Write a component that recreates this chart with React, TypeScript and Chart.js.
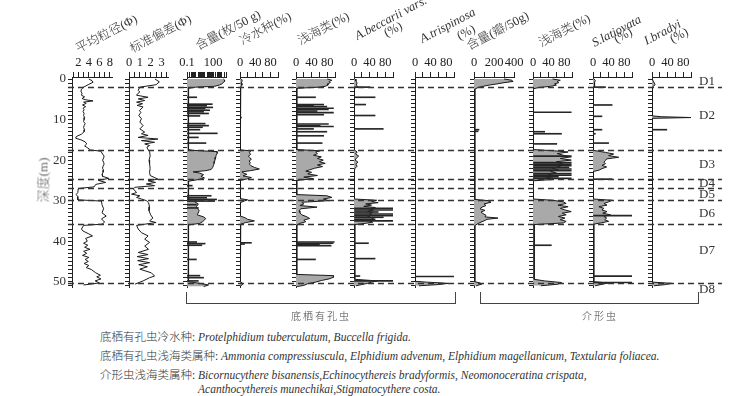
import React, { useEffect, useRef } from 'react';
import { Chart, registerables } from 'chart.js';

Chart.register(...registerables);

// ---------------- data (depth in m) ----------------
const meanGrainDepth = [0, 0.4, 0.8, 1.3, 2.0, 2.5, 3.0, 3.5, 4.0, 4.4,
  4.8, 5.1, 5.4, 5.7, 6.0, 6.4, 6.8, 7.2, 7.6, 8.0,
  8.5, 9.0, 9.5, 10.0, 10.5, 11.0, 11.5, 12.0, 12.5, 13.0,
  13.6, 14.2, 14.6, 15.0, 15.5, 16.0, 16.5, 17.0, 17.5, 17.8,
  18.5, 19.0, 19.5, 20.0, 20.5, 21.0, 21.5, 22.0, 22.5, 23.0,
  23.5, 24.0, 24.5, 25.0, 25.5, 26.0, 26.6, 27.0, 28.0, 28.5,
  29.0, 29.8, 30.1, 31.0, 32.0, 33.0, 33.8, 34.5, 35.3, 35.8,
  36.1, 37.0, 37.5, 38.2, 38.7, 39.3, 40.0, 40.5, 41.0, 41.5,
  42.0, 42.5, 43.0, 43.5, 44.0, 44.5, 45.0, 45.5, 46.0, 46.5,
  47.0, 47.8, 48.4, 48.8, 49.3, 49.8, 50.3, 50.8];
const meanGrainValue = [4.0, 4.6, 4.8, 4.0, 3.0, 2.6, 2.5, 2.7, 2.6, 3.2,
  2.7, 3.3, 4.8, 3.0, 3.5, 2.8, 3.4, 2.9, 3.1, 2.9,
  3.1, 3.0, 3.2, 3.1, 3.0, 3.3, 3.1, 3.0, 3.2, 3.1,
  2.6, 1.6, 1.5, 2.5, 3.3, 3.6, 3.2, 3.8, 4.3, 6.3,
  6.6, 6.9, 6.8, 6.6, 6.8, 6.9, 6.7, 6.6, 6.8, 6.7,
  6.5, 6.6, 7.8, 5.8, 7.2, 5.3, 5.0, 2.0, 1.9, 1.6,
  1.9, 1.9, 6.4, 6.5, 6.8, 6.5, 7.3, 6.4, 7.0, 6.5,
  3.0, 2.6, 2.9, 4.0, 4.7, 3.4, 3.7, 3.0, 3.8, 3.2,
  4.2, 3.0, 3.6, 2.8, 4.0, 3.3, 3.9, 3.1, 4.0, 3.5,
  4.5, 5.3, 6.2, 5.5, 6.3, 5.2, 6.0, 3.0];

const sortingDepth = [0, 0.7, 1.4, 2.0, 2.8, 3.2, 3.6, 4.0, 4.5, 4.9,
  5.3, 5.7, 6.1, 6.5, 6.9, 7.8, 8.2, 9.0, 9.8, 10.6,
  11.5, 12.3, 13.1, 13.5, 13.9, 14.4, 14.8, 15.2, 15.6, 16.0,
  16.4, 16.8, 17.4, 17.8, 19.0, 20.0, 21.0, 22.0, 23.0, 23.8,
  24.7, 25.1, 25.5, 25.9, 26.3, 26.7, 27.1, 28.0, 28.4, 28.8,
  29.2, 29.6, 30.0, 30.5, 31.5, 32.5, 33.5, 34.3, 35.0, 35.4,
  36.1, 37.0, 37.9, 38.7, 39.5, 40.3, 41.2, 42.0, 42.8, 43.3,
  43.8, 44.3, 44.8, 45.3, 45.8, 46.3, 46.9, 47.8, 48.6, 49.0,
  49.8, 50.6];
const sortingValue = [2.4, 2.8, 2.5, 1.0, 0.85, 1.0, 0.8, 0.7, 1.76, 0.85,
  1.45, 0.7, 1.25, 0.75, 1.3, 0.95, 1.1, 0.9, 1.15, 1.0,
  1.3, 1.0, 1.45, 1.15, 1.76, 0.85, 2.67, 1.15, 2.36, 1.45,
  1.9, 1.65, 1.76, 1.9, 1.95, 1.85, 1.9, 1.95, 1.9, 1.95,
  2.67, 1.76, 2.45, 1.6, 2.36, 0.55, 0.4, 0.7, 0.24, 1.0,
  0.7, 1.15, 1.6, 1.8, 1.9, 1.85, 2.0, 2.2, 1.9, 2.5,
  0.7, 0.85, 1.15, 1.76, 1.45, 1.9, 1.45, 1.8, 0.85, 1.76,
  0.75, 1.8, 0.8, 1.9, 0.9, 1.7, 1.0, 2.06, 2.36, 1.9,
  1.3, 0.55];

const foramAbundDepth = [0, 0.3, 0.6, 0.9, 1.2, 1.5, 1.8, 2.0, 2.3, 17.4,
  17.6, 17.9, 18.3, 18.8, 19.3, 19.8, 20.3, 20.8, 21.3, 21.8,
  22.3, 22.6, 22.9, 23.2, 23.6, 24.0, 24.4, 24.8, 25.2, 29.6,
  29.9, 30.3, 30.8, 31.5, 32.5, 33.5, 34.0, 34.4, 34.8, 35.2,
  35.6, 36.0, 50.0, 50.4, 50.8, 51.2];
const foramAbundValue = [1500, 2200, 2000, 1400, 1000, 500, 150, 1, 0.15, 0.15,
  0.5, 280, 300, 220, 200, 170, 150, 130, 110, 90,
  60, 15, 0.5, 3, 8, 4, 10, 2, 0.15, 0.15,
  1.5, 0.8, 2, 1.2, 2.5, 1.5, 8, 14, 10, 6,
  3, 0.15, 0.15, 3, 30, 8];
const foramAbundSpikeDepth = [4.5, 6.2, 6.6, 7.0, 7.3, 7.7, 8.1, 8.5, 9.1, 11.0,
  11.5, 11.9, 12.5, 13.4, 14.4, 15.8, 26.3, 28.8, 29.3, 29.7,
  30.1, 31.0, 31.8, 40.2, 40.6, 41.0, 44.5, 48.5, 49.0, 49.8];
const foramAbundSpikeValue = [1.3, 80, 18, 90, 12, 40, 8, 30, 3, 12,
  30, 6, 3, 300, 2, 15, 0.4, 60, 18, 250,
  150, 1.2, 2, 1.3, 12, 5, 1.2, 3, 8, 2];

const coldDepth = [0, 0.5, 1.0, 1.5, 2.0, 2.5, 17.5, 17.7, 18.2, 18.6,
  19.0, 19.4, 19.8, 20.2, 20.6, 21.0, 21.4, 21.8, 22.2, 22.6,
  22.9, 23.2, 23.5, 23.9, 24.3, 24.6, 25.0, 29.5, 29.8, 30.2,
  30.5, 33.8, 34.2, 34.6, 35.0, 35.4, 35.8, 50.0, 50.5, 51.0];
const coldValue = [4, 6, 3, 5, 2, 1, 1, 28, 25, 28,
  22, 26, 30, 24, 27, 25, 29, 38, 51, 28,
  5, 10, 18, 8, 30, 20, 1, 1, 20, 8,
  1, 1, 13, 20, 38, 15, 2, 1, 8, 3];
const coldSpikeDepth = [9.5, 40.4, 40.7];
const coldSpikeValue = [4, 30, 12];

const foramShallowDepth = [0, 0.3, 0.6, 0.9, 1.2, 1.5, 1.8, 2.0, 2.3, 17.4,
  17.7, 18.0, 18.4, 18.8, 19.2, 19.6, 20.0, 20.4, 20.8, 21.2,
  21.6, 22.0, 22.4, 22.7, 23.0, 23.4, 23.8, 24.2, 24.6, 25.0,
  28.5, 28.8, 29.2, 29.6, 30.0, 30.4, 30.8, 31.2, 31.6, 32.0,
  32.5, 33.0, 33.5, 34.0, 34.4, 34.8, 35.2, 35.6, 36.0, 48.2,
  48.5, 48.9, 49.3, 49.7, 50.1, 50.5, 50.9, 51.2];
const foramShallowValue = [80, 92, 85, 88, 80, 82, 75, 60, 2, 2,
  62, 50, 55, 45, 65, 55, 70, 60, 75, 55,
  68, 48, 35, 25, 40, 30, 55, 20, 45, 2,
  2, 79, 92, 70, 85, 15, 20, 10, 54, 12,
  8, 10, 15, 28, 35, 20, 25, 10, 2, 2,
  96, 96, 85, 65, 50, 30, 20, 3];
const foramShallowSpikeDepth = [4.5, 6.3, 6.5, 6.8, 7.2, 7.5, 7.9, 8.3, 8.8, 11.1,
  11.5, 11.7, 12.3, 13.0, 14.0, 15.8, 40.2, 40.5, 40.8, 41.1, 44.5];
const foramShallowSpikeValue = [50, 71, 45, 79, 96, 83, 54, 96, 71, 83,
  62, 96, 45, 79, 71, 67, 98, 95, 60, 90, 50];

const beccariiDepth = [0, 0.5, 1.0, 1.5, 1.9, 2.3, 17.5, 18.0, 18.5, 19.0,
  19.5, 20.0, 20.5, 21.0, 21.5, 22.0, 22.5, 29.6, 29.9, 30.2,
  30.5, 30.8, 31.1, 31.4, 31.7, 32.0, 32.3, 32.6, 32.9, 33.2,
  33.5, 33.8, 34.1, 34.4, 34.7, 35.0, 35.3, 35.6, 35.9, 49.4,
  49.8, 50.1, 50.4, 50.7, 51.0];
const beccariiValue = [3, 5, 8, 6, 10, 1, 1, 8, 4, 12,
  6, 3, 10, 5, 8, 3, 1, 1, 58, 45,
  62, 30, 45, 25, 55, 40, 50, 35, 48, 40,
  45, 35, 42, 50, 45, 40, 48, 30, 2, 2,
  60, 45, 35, 20, 5];
const beccariiSpikeDepth = [2.0, 4.5, 6.3, 9.0, 12.3, 31.9, 32.3, 32.8, 33.3, 33.7,
  34.1, 34.6, 35.0, 40.5, 44.3, 48.6, 49.8];
const beccariiSpikeValue = [41, 54, 30, 54, 75, 100, 100, 62, 100, 100,
  75, 54, 100, 37, 54, 15, 100];

const trispinosaDepth = [0, 49.9, 50.1, 50.4, 50.7, 51.0];
const trispinosaValue = [0.5, 0.5, 30, 85, 60, 10];
const trispinosaSpikeDepth = [48.7];
const trispinosaSpikeValue = [100];

const ostraAbundDepth = [0, 0.3, 0.6, 0.9, 1.2, 1.5, 1.8, 2.1, 2.5, 29.7,
  30.0, 30.4, 30.8, 31.2, 31.6, 32.0, 32.4, 32.8, 33.2, 33.6,
  34.0, 34.3, 34.6, 35.0, 35.4, 35.8, 36.2, 50.0, 50.3, 50.6,
  51.0];
const ostraAbundValue = [300, 380, 390, 300, 230, 150, 90, 40, 8, 8,
  140, 170, 100, 120, 80, 60, 110, 70, 90, 120,
  110, 240, 130, 100, 60, 30, 8, 8, 60, 77,
  20];
const ostraAbundSpikeDepth = [12.5, 12.9];
const ostraAbundSpikeValue = [50, 40];

const ostraShallowDepth = [0, 0.3, 0.6, 0.9, 1.2, 1.5, 1.8, 2.1, 2.4, 17.4,
  17.7, 18.0, 18.4, 18.8, 19.2, 19.6, 20.0, 20.4, 20.8, 21.2,
  21.6, 22.0, 22.4, 22.8, 23.2, 23.6, 24.0, 24.4, 24.8, 25.1,
  29.6, 29.9, 30.3, 30.7, 31.1, 31.5, 31.9, 32.3, 32.7, 33.1,
  33.5, 33.9, 34.3, 34.7, 35.1, 35.5, 35.9, 49.4, 49.8, 50.2,
  50.6, 51.0];
const ostraShallowValue = [50, 70, 62, 66, 55, 60, 45, 15, 1, 1,
  55, 90, 62, 78, 98, 70, 98, 60, 75, 55,
  70, 50, 65, 45, 60, 40, 55, 35, 50, 1,
  1, 50, 78, 85, 64, 90, 70, 82, 98, 75,
  85, 65, 82, 70, 85, 78, 3, 3, 30, 73,
  64, 20];
const ostraShallowSpikeDepth = [8.2, 13.0, 13.5, 16.0, 19.0, 20.6, 21.0, 21.4, 21.8, 22.2,
  22.6, 23.3, 23.7, 24.1, 24.5, 41.0];
const ostraShallowSpikeValue = [98, 30, 73, 61, 98, 98, 98, 98, 92, 98,
  98, 98, 98, 65, 98, 47];

const latiovataDepth = [0, 0.4, 0.8, 1.2, 1.6, 2.0, 2.3, 17.6, 18.1, 18.5,
  18.9, 19.3, 19.7, 20.1, 20.5, 20.9, 21.3, 21.7, 22.1, 22.5,
  22.8, 29.6, 29.9, 30.3, 30.7, 31.1, 31.5, 31.9, 32.3, 32.7,
  33.1, 33.5, 33.9, 34.3, 34.7, 35.1, 35.5, 35.8, 50.0, 50.3,
  50.6, 51.0];
const latiovataValue = [3, 6, 4, 5, 3, 4, 1, 1, 32, 53,
  40, 66, 35, 32, 28, 32, 23, 35, 23, 15,
  1, 1, 49, 40, 28, 36, 15, 28, 23, 36,
  25, 45, 28, 35, 30, 40, 20, 2, 2, 40,
  25, 5];
const latiovataSpikeDepth = [2.0, 6.4, 9.2, 12.5, 13.5, 15.8, 24.7, 33.7, 48.6, 50.2];
const latiovataSpikeValue = [32, 49, 23, 23, 6, 40, 49, 100, 100, 100];

const bradyiDepth = [0, 0.5, 1.0, 1.4, 1.8, 2.2, 9.1, 9.3, 9.5, 9.7, 50.1, 50.4, 50.7, 51.0];
const bradyiValue = [1, 3, 6, 8, 3, 1, 1, 25, 100, 1, 1, 51, 35, 5];
const bradyiSpikeDepth = [12.5];
const bradyiSpikeValue = [38];

// zone boundaries and labels
const boundaryDepths = [2.0, 17.5, 24.6, 26.9, 29.9, 35.8, 50.2];
const unitLabels = ['D1', 'D2', 'D3', 'D4', 'D5', 'D6', 'D7', 'D8'];
const unitLabelDepths = [0.7, 9.05, 21.2, 25.7, 28.6, 33.1, 42.2, 52.0];
const depthTickLabels = [0, 10, 20, 30, 40, 50];

// ---------------- layout / style ----------------
const DEPTH_MIN = -0.5;
const DEPTH_MAX = 51.3;
const PLOT_TOP = 77;
const PLOT_BOTTOM = 287;
const CANVAS_H = 300;
const Y_AXIS_W = 30;
const PAD_R = 14;
const DASH_X0 = 68;
const DASH_X1 = 722;
const UNIT_X = 699;
const SERIF = '"Liberation Serif", "Times New Roman", serif';
const MIXED = '"Liberation Serif", "Noto Sans CJK SC", serif';
const INK = '#1a1a1a';
const SPIKE = '#262626';
const FILL = '#a9a9a9';

type PanelCfg = {
  id: string;
  axisX: number;
  width: number;
  min: number;
  max: number;
  step?: number;
  log?: boolean;
  labels: number[];
  depth: number[];
  value: number[];
  spikeDepth?: number[];
  spikeValue?: number[];
  fill: boolean;
  depthAxisLabels?: boolean;
};

const PANELS: PanelCfg[] = [
  { id: 'meanGrain', axisX: 72, width: 40, min: 0.8, max: 8.4, step: 1, labels: [2, 4, 6, 8], depth: meanGrainDepth, value: meanGrainValue, fill: false, depthAxisLabels: true },
  { id: 'sorting', axisX: 129, width: 39, min: 0, max: 3.6, step: 0.5, labels: [0, 1, 2, 3], depth: sortingDepth, value: sortingValue, fill: false },
  { id: 'foramAbund', axisX: 187, width: 39, min: 0.1, max: 3000, log: true, labels: [0.1, 100], depth: foramAbundDepth, value: foramAbundValue, spikeDepth: foramAbundSpikeDepth, spikeValue: foramAbundSpikeValue, fill: true },
  { id: 'cold', axisX: 240, width: 38, min: 0, max: 100, step: 20, labels: [0, 40, 80], depth: coldDepth, value: coldValue, spikeDepth: coldSpikeDepth, spikeValue: coldSpikeValue, fill: true },
  { id: 'foramShallow', axisX: 296, width: 39, min: 0, max: 100, step: 20, labels: [0, 40, 80], depth: foramShallowDepth, value: foramShallowValue, spikeDepth: foramShallowSpikeDepth, spikeValue: foramShallowSpikeValue, fill: true },
  { id: 'beccarii', axisX: 354, width: 39, min: 0, max: 100, step: 20, labels: [0, 40, 80], depth: beccariiDepth, value: beccariiValue, spikeDepth: beccariiSpikeDepth, spikeValue: beccariiSpikeValue, fill: true },
  { id: 'trispinosa', axisX: 415, width: 39, min: 0, max: 100, step: 20, labels: [0, 40, 80], depth: trispinosaDepth, value: trispinosaValue, spikeDepth: trispinosaSpikeDepth, spikeValue: trispinosaSpikeValue, fill: true },
  { id: 'ostraAbund', axisX: 474, width: 40, min: 0, max: 400, step: 100, labels: [0, 200, 400], depth: ostraAbundDepth, value: ostraAbundValue, spikeDepth: ostraAbundSpikeDepth, spikeValue: ostraAbundSpikeValue, fill: true },
  { id: 'ostraShallow', axisX: 533, width: 39, min: 0, max: 100, step: 20, labels: [0, 40, 80], depth: ostraShallowDepth, value: ostraShallowValue, spikeDepth: ostraShallowSpikeDepth, spikeValue: ostraShallowSpikeValue, fill: true },
  { id: 'latiovata', axisX: 593, width: 39, min: 0, max: 100, step: 20, labels: [0, 40, 80], depth: latiovataDepth, value: latiovataValue, spikeDepth: latiovataSpikeDepth, spikeValue: latiovataSpikeValue, fill: true },
  { id: 'bradyi', axisX: 652, width: 39, min: 0, max: 100, step: 20, labels: [0, 40, 80], depth: bradyiDepth, value: bradyiValue, spikeDepth: bradyiSpikeDepth, spikeValue: bradyiSpikeValue, fill: true },
];

const TITLES = [
  { text: '平均粒径(Φ)', x: 79, y: 54 },
  { text: '标准偏差(Φ)', x: 133, y: 54 },
  { text: '含量(枚/50 g)', x: 199, y: 51 },
  { text: '冷水种(%)', x: 243, y: 46 },
  { text: '浅海类(%)', x: 301, y: 46 },
  { text: 'A.beccarii vars.', x: 358, y: 41, italic: true },
  { text: '(%)', x: 387, y: 38 },
  { text: 'A.trispinosa', x: 423, y: 44, italic: true },
  { text: '(%)', x: 460, y: 41 },
  { text: '含量(瓣/50g)', x: 470, y: 51 },
  { text: '浅海类(%)', x: 542, y: 48 },
  { text: 'S.latiovata', x: 595, y: 48, italic: true },
  { text: '(%)', x: 617, y: 44 },
  { text: 'I.bradyi', x: 647, y: 46, italic: true },
  { text: '(%)', x: 673, y: 44 },
];

function pickLabel(v: number, list: number[]): string {
  const hit = list.find((l) => Math.abs(l - v) < 1e-6 * Math.max(1, Math.abs(l)));
  return hit === undefined ? '' : String(hit);
}

function buildPanel(canvas: HTMLCanvasElement, p: PanelCfg): Chart {
  const base = p.log ? p.min : 0;
  const datasets: any[] = [
    {
      type: 'line',
      data: p.depth.map((d, i) => ({ x: p.value[i], y: d })),
      borderColor: INK,
      borderWidth: 1,
      backgroundColor: FILL,
      fill: p.fill ? { value: base } : false,
      pointRadius: 0,
      tension: 0,
      order: 2,
    },
  ];
  if (p.spikeDepth && p.spikeValue) {
    const sv = p.spikeValue;
    datasets.push({
      type: 'bar',
      data: p.spikeDepth.map((d, i) => ({ x: [base, sv[i]], y: d })),
      backgroundColor: SPIKE,
      borderWidth: 0,
      barThickness: 1,
      order: 1,
    });
  }
  const xScale: any = {
    type: p.log ? 'logarithmic' : 'linear',
    position: 'top',
    min: p.min,
    max: p.max,
    offset: false,
    afterFit: (s: any) => {
      s.height = PLOT_TOP;
      s.paddingLeft = 0;
      s.paddingRight = 0;
    },
    ticks: {
      autoSkip: false,
      maxRotation: 0,
      minRotation: 0,
      padding: 2,
      color: '#222',
      font: { family: SERIF, size: 12.5 },
      callback: (v: any) => pickLabel(Number(v), p.labels),
    },
    grid: { drawOnChartArea: false, drawTicks: true, tickLength: 5, color: '#222', lineWidth: 1, offset: false },
    border: { display: true, color: '#222', width: 1 },
  };
  if (p.log) {
    xScale.afterBuildTicks = (s: any) => {
      const t: any[] = [];
      for (let e = -1; e <= 3; e++) {
        for (let m = 1; m <= 9; m++) {
          const v = m * Math.pow(10, e);
          if (v <= p.max * 1.0001) t.push({ value: v });
        }
      }
      s.ticks = t;
    };
  } else {
    xScale.ticks.stepSize = p.step;
    xScale.ticks.includeBounds = false;
  }
  return new Chart(canvas, {
    type: 'line',
    data: { datasets },
    options: {
      responsive: false,
      animation: false,
      indexAxis: 'y',
      events: [],
      layout: { padding: { left: 0, right: PAD_R, top: 0, bottom: CANVAS_H - PLOT_BOTTOM } },
      plugins: { legend: { display: false }, tooltip: { enabled: false } },
      scales: {
        x: xScale,
        y: {
          type: 'linear',
          reverse: true,
          min: DEPTH_MIN,
          max: DEPTH_MAX,
          offset: false,
          afterFit: (s: any) => {
            s.width = Y_AXIS_W;
            s.paddingTop = 0;
            s.paddingBottom = 0;
          },
          ticks: {
            stepSize: 1,
            includeBounds: false,
            autoSkip: false,
            padding: 2,
            color: '#333',
            font: { family: SERIF, size: 13 },
            callback: (v: any) => (p.depthAxisLabels ? pickLabel(Number(v), depthTickLabels) : ''),
          },
          grid: { drawOnChartArea: false, drawTicks: true, tickLength: 4, color: '#222', lineWidth: 1, offset: false },
          border: { display: true, color: '#222', width: 1 },
        },
      },
    } as any,
  });
}

const boundaryPlugin = {
  id: 'zoneBoundaries',
  afterDraw(chart: any) {
    const ctx = chart.ctx as CanvasRenderingContext2D;
    const y = chart.scales.y;
    ctx.save();
    ctx.strokeStyle = '#333';
    ctx.lineWidth = 1.4;
    ctx.setLineDash([6, 4]);
    boundaryDepths.forEach((d) => {
      const py = Math.round(y.getPixelForValue(d)) + 0.5;
      ctx.beginPath();
      ctx.moveTo(DASH_X0, py);
      ctx.lineTo(DASH_X1, py);
      ctx.stroke();
    });
    ctx.setLineDash([]);
    ctx.fillStyle = '#333';
    ctx.font = `13px ${SERIF}`;
    ctx.textBaseline = 'middle';
    ctx.textAlign = 'left';
    unitLabels.forEach((t, i) => {
      ctx.fillText(t, UNIT_X, y.getPixelForValue(unitLabelDepths[i]));
    });
    ctx.restore();
  },
};

function buildFrame(canvas: HTMLCanvasElement): Chart {
  return new Chart(canvas, {
    type: 'line',
    data: { datasets: [] },
    options: {
      responsive: false,
      animation: false,
      events: [],
      layout: { padding: { left: 0, right: 0, top: PLOT_TOP, bottom: CANVAS_H - PLOT_BOTTOM } },
      plugins: { legend: { display: false }, tooltip: { enabled: false } },
      scales: {
        x: { type: 'linear', display: false, min: 0, max: 1 },
        y: { type: 'linear', display: false, reverse: true, min: DEPTH_MIN, max: DEPTH_MAX },
      },
    } as any,
    plugins: [boundaryPlugin],
  });
}

export default function App() {
  const panelRefs = useRef<(HTMLCanvasElement | null)[]>([]);
  const frameRef = useRef<HTMLCanvasElement | null>(null);

  useEffect(() => {
    const charts: Chart[] = [];
    PANELS.forEach((p, i) => {
      const c = panelRefs.current[i];
      if (c) charts.push(buildPanel(c, p));
    });
    if (frameRef.current) charts.push(buildFrame(frameRef.current));
    return () => charts.forEach((ch) => ch.destroy());
  }, []);

  const bracket = (left: number, width: number) => ({
    position: 'absolute' as const,
    left,
    top: 292,
    width,
    height: 12,
    borderLeft: '1px solid #444',
    borderRight: '1px solid #444',
    borderBottom: '1px solid #444',
    boxSizing: 'border-box' as const,
  });

  const captionStyle = (left: number, top: number) => ({
    position: 'absolute' as const,
    left,
    top,
    fontSize: 11.5,
    lineHeight: '14px',
    whiteSpace: 'nowrap' as const,
    color: '#333',
    fontWeight: 300,
  });

  return (
    <div style={{ position: 'absolute', left: 0, top: 0, width: 751, height: 396, background: '#fff', overflow: 'hidden', fontFamily: MIXED, color: '#222' }}>
      {PANELS.map((p, i) => (
        <canvas
          key={p.id}
          ref={(el) => {
            panelRefs.current[i] = el;
          }}
          width={Y_AXIS_W + p.width + PAD_R}
          height={CANVAS_H}
          style={{ position: 'absolute', left: p.axisX - Y_AXIS_W, top: 0, width: Y_AXIS_W + p.width + PAD_R, height: CANVAS_H }}
        />
      ))}
      <canvas
        ref={frameRef}
        width={751}
        height={CANVAS_H}
        style={{ position: 'absolute', left: 0, top: 0, width: 751, height: CANVAS_H, pointerEvents: 'none' }}
      />
      {TITLES.map((t, i) => (
        <span
          key={i}
          style={{
            position: 'absolute',
            left: t.x,
            top: t.y - 11,
            fontSize: 12.5,
            lineHeight: '13px',
            whiteSpace: 'nowrap',
            transformOrigin: '0 11px',
            transform: 'rotate(-28deg)',
            fontStyle: t.italic ? 'italic' : 'normal',
            fontWeight: 300,
            color: '#333',
          }}
        >
          {t.text}
        </span>
      ))}
      <div
        style={{
          position: 'absolute',
          left: 42,
          top: 180,
          transform: 'translate(-50%, -50%) rotate(-90deg)',
          fontSize: 13,
          fontWeight: 300,
          color: '#666',
          whiteSpace: 'nowrap',
        }}
      >
        深度(m)
      </div>
      <div style={bracket(186, 270)} />
      <div style={bracket(480, 219)} />
      <div style={{ position: 'absolute', left: 321, top: 315, transform: 'translate(-50%, -50%)', fontSize: 10, letterSpacing: 2, fontWeight: 300, color: '#444', whiteSpace: 'nowrap' }}>底栖有孔虫</div>
      <div style={{ position: 'absolute', left: 600, top: 315, transform: 'translate(-50%, -50%)', fontSize: 10, letterSpacing: 2, fontWeight: 300, color: '#444', whiteSpace: 'nowrap' }}>介形虫</div>
      <div style={captionStyle(100, 330)}>
        底栖有孔虫冷水种: <i>Protelphidium tuberculatum, Buccella frigida.</i>
      </div>
      <div style={captionStyle(100, 349)}>
        底栖有孔虫浅海类属种: <i>Ammonia compressiuscula, Elphidium advenum, Elphidium magellanicum, Textularia foliacea.</i>
      </div>
      <div style={captionStyle(100, 368)}>
        介形虫浅海类属种: <i>Bicornucythere bisanensis,Echinocythereis bradyformis, Neomonoceratina crispata,</i>
      </div>
      <div style={captionStyle(198, 382)}>
        <i>Acanthocythereis munechikai,Stigmatocythere costa.</i>
      </div>
    </div>
  );
}
